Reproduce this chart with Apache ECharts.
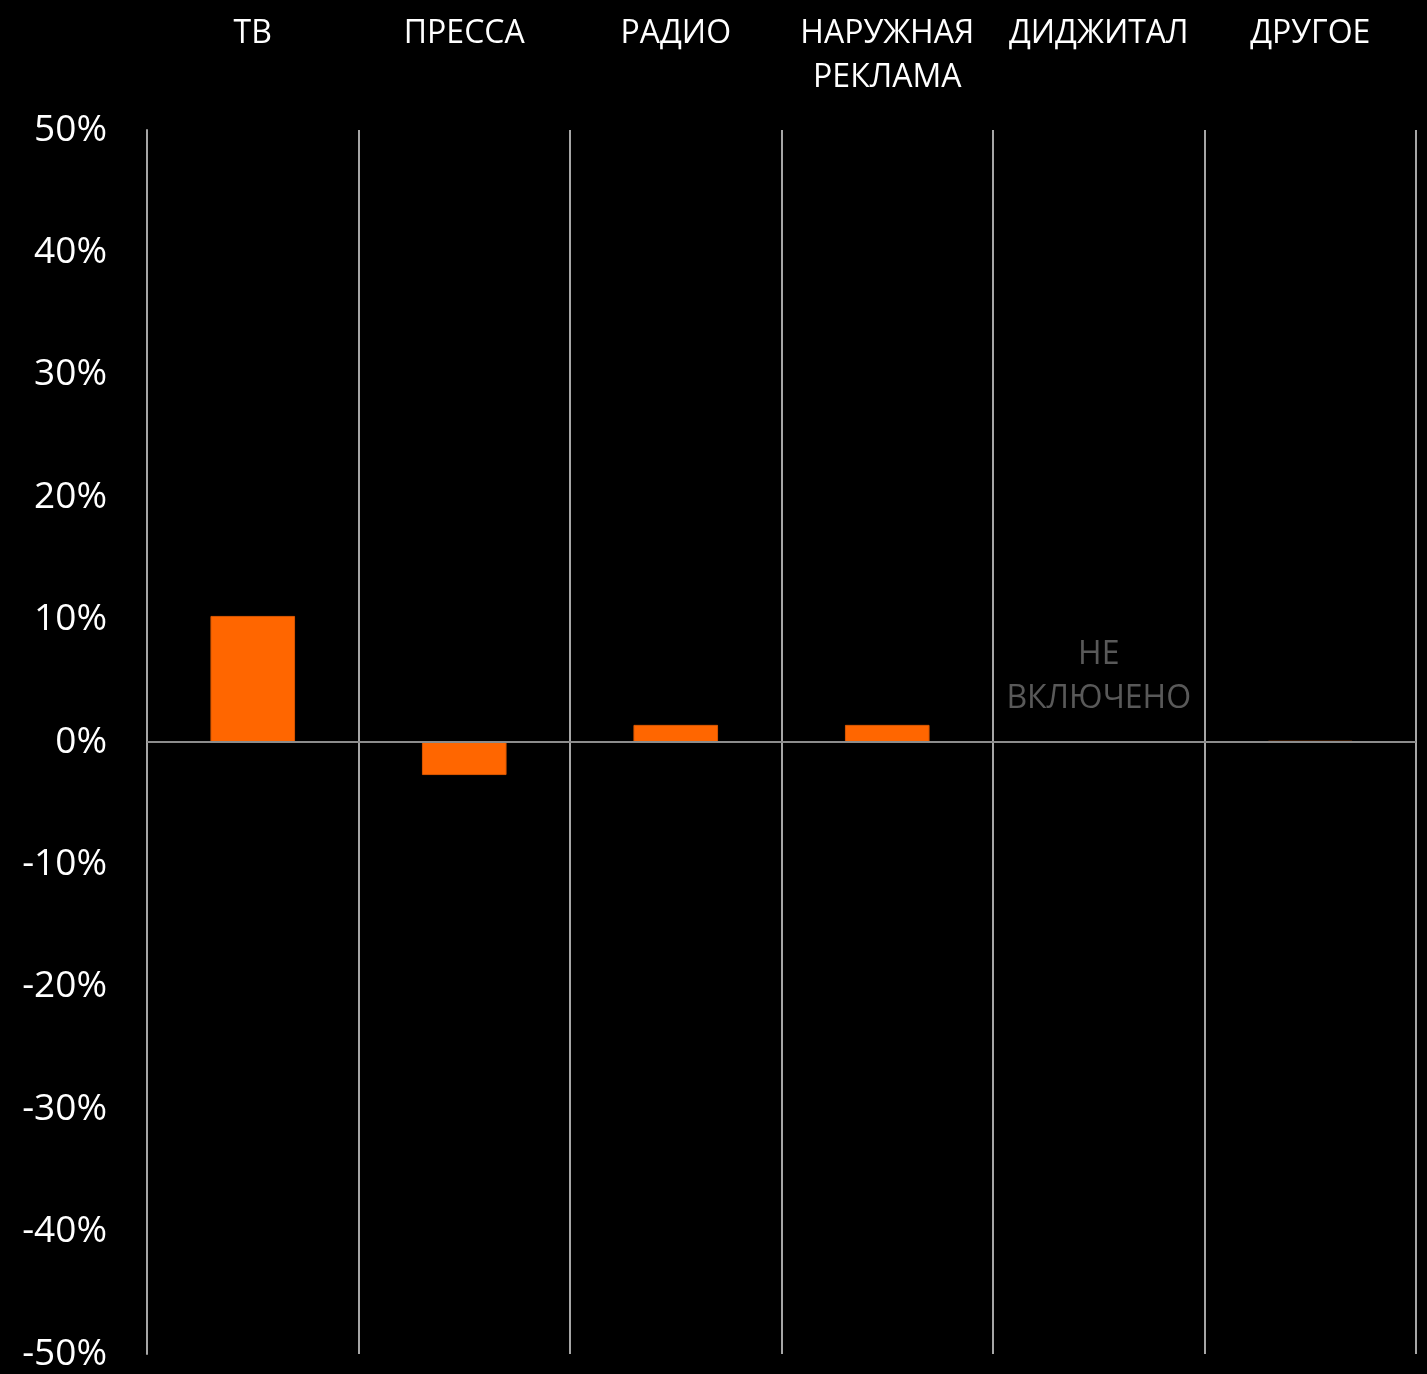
<!DOCTYPE html>
<html>
<head>
<meta charset="utf-8">
<script src="https://cdn.jsdelivr.net/npm/echarts@6/dist/echarts.min.js"></script>
<style>html,body{margin:0;padding:0;background:#000;}#c{width:1427px;height:1374px;}</style>
</head>
<body>
<div id="c"></div>
<script>
const categories = ['ТВ', 'ПРЕССА', 'РАДИО', 'НАРУЖНАЯ\nРЕКЛАМА', 'ДИДЖИТАЛ', 'ДРУГОЕ'];
const values = [10.3, -2.7, 1.4, 1.4, null, 0.1];
const notes = [null, null, null, null, 'НЕ\nВКЛЮЧЕНО', null];
const yMin = -50, yMax = 50, yStep = 10;

const FONT = '"Open Sans", sans-serif';
const data = values.map((v, i) => {
  if (notes[i]) {
    return {
      value: 0,
      itemStyle: { color: 'transparent', borderWidth: 0 },
      label: {
        show: true, position: 'top', distance: 21, formatter: notes[i],
        color: '#595959', fontSize: 32, fontFamily: FONT, lineHeight: 44
      }
    };
  }
  return v;
});

const chart = echarts.init(document.getElementById('c'), null, { renderer: 'canvas' });
chart.setOption({
  backgroundColor: '#000000',
  animation: false,
  grid: { left: 147, right: 11, top: 130, bottom: 20, containLabel: false },
  xAxis: {
    type: 'category',
    position: 'top',
    data: categories,
    boundaryGap: true,
    axisLine: { show: false, onZero: false },
    axisTick: { show: false },
    axisLabel: {
      interval: 0, color: '#ffffff', fontSize: 32, fontFamily: FONT,
      lineHeight: 44, verticalAlign: 'top', margin: 118
    },
    splitLine: { show: true, interval: 0, lineStyle: { color: '#a6a6a6', width: 2 } }
  },
  yAxis: {
    type: 'value',
    min: yMin, max: yMax, interval: yStep,
    axisLine: { show: true, lineStyle: { color: '#a6a6a6', width: 2 } },
    axisTick: { show: false },
    splitLine: { show: false },
    axisLabel: {
      color: '#ffffff', fontSize: 37, fontFamily: FONT, margin: 40,
      formatter: '{value}%'
    }
  },
  series: [{
    type: 'bar',
    data: data,
    barWidth: '40%',
    itemStyle: { color: '#ff6600', borderColor: '#d95700', borderWidth: 1 },
    markLine: {
      silent: true, symbol: 'none',
      label: { show: false },
      lineStyle: { color: '#8c8c8c', width: 2, type: 'solid' },
      data: [{ yAxis: 0 }]
    }
  }]
});
</script>
</body>
</html>
